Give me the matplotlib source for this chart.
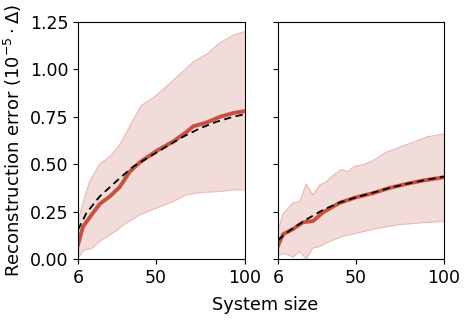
import matplotlib
matplotlib.use("Agg")
import matplotlib.pyplot as plt

# left panel
xl_mean = [6, 8.8, 12.6, 18.2, 23.9, 29.5, 35.1, 40.8, 50.2, 59.6, 67.1, 70.9, 78.4, 85.9, 93.4, 100]
yl_mean = [0.075, 0.17, 0.22, 0.29, 0.33, 0.38, 0.46, 0.51, 0.57, 0.62, 0.67, 0.70, 0.72, 0.75, 0.77, 0.78]
xl_fit = [6, 10.7, 18.2, 27.6, 37.0, 46.4, 55.8, 65.2, 74.6, 84.0, 93.4, 100]
yl_fit = [0.154, 0.242, 0.33, 0.41, 0.487, 0.54, 0.593, 0.645, 0.689, 0.724, 0.75, 0.764]
xl_up = [6, 9.8, 12.6, 18.2, 23.9, 29.5, 35.1, 41.7, 48.3, 55.8, 65.2, 70.9, 78.4, 85.9, 93.4, 100]
yl_up = [0.2, 0.33, 0.41, 0.50, 0.54, 0.60, 0.70, 0.81, 0.85, 0.91, 0.99, 1.04, 1.08, 1.14, 1.18, 1.20]
xl_lo = [6, 9.8, 13.5, 18.2, 25.7, 33.2, 40.8, 50.2, 59.6, 67.1, 74.6, 85.9, 93.4, 100]
yl_lo = [0.005, 0.05, 0.053, 0.093, 0.137, 0.19, 0.233, 0.268, 0.303, 0.338, 0.35, 0.356, 0.365, 0.365]

# right panel
xr_mean = [6, 8.8, 14.5, 20.2, 25.8, 31.5, 40.9, 50.4, 59.8, 69.2, 78.7, 88.1, 100]
yr_mean = [0.07, 0.13, 0.158, 0.194, 0.2, 0.246, 0.296, 0.326, 0.347, 0.375, 0.396, 0.414, 0.431]
xr_fit = [6, 12.6, 22.0, 31.5, 40.9, 50.4, 59.8, 69.2, 78.7, 88.1, 100]
yr_fit = [0.10, 0.15, 0.208, 0.259, 0.298, 0.326, 0.35, 0.375, 0.396, 0.414, 0.435]
xr_up = [6, 8.8, 14.5, 18.3, 22.0, 25.8, 29.6, 33.4, 37.1, 41.9, 45.6, 49.4, 54.1, 59.8, 67.3, 74.9, 82.5, 90.0, 100]
yr_up = [0.15, 0.238, 0.296, 0.303, 0.396, 0.338, 0.39, 0.408, 0.44, 0.472, 0.461, 0.489, 0.496, 0.519, 0.563, 0.59, 0.616, 0.643, 0.66]
xr_lo = [6, 9.8, 14.5, 18.3, 22.0, 25.8, 29.6, 35.3, 42.8, 52.3, 63.6, 74.9, 86.2, 100]
yr_lo = [0.018, 0.03, 0.009, 0.04, 0.0, 0.058, 0.065, 0.093, 0.12, 0.14, 0.164, 0.181, 0.19, 0.199]

line_col = "#c9503c"
fill_col = "#f2dcda"
edge_col = "#eab9b4"

fig = plt.figure(figsize=(4.69, 3.23), dpi=100)
ax1 = fig.add_axes([78/469, 64/323, 167/469, 237/323])
ax2 = fig.add_axes([278/469, 64/323, 166/469, 237/323])

panels = [
    (ax1, xl_mean, yl_mean, xl_fit, yl_fit, xl_up, yl_up, xl_lo, yl_lo),
    (ax2, xr_mean, yr_mean, xr_fit, yr_fit, xr_up, yr_up, xr_lo, yr_lo),
]
for ax, xm, ym, xf, yf, xu, yu, xlo, ylo in panels:
    # band as one polygon: upper edge then lower edge reversed
    ax.fill(xu + xlo[::-1], yu + ylo[::-1], color=fill_col, lw=0)
    ax.plot(xu, yu, color=edge_col, lw=0.8)
    ax.plot(xlo, ylo, color=edge_col, lw=0.8)
    ax.plot(xm, ym, color=line_col, lw=2.8)
    ax.plot(xf, yf, color="black", lw=1.3, ls=(0, (4, 2.5)))
    ax.set_xlim(6, 100)
    ax.set_ylim(0, 1.25)
    ax.set_xticks([6, 50, 100])
    ax.set_yticks([0, 0.25, 0.5, 0.75, 1.0, 1.25])
    ax.tick_params(labelsize=12.5)

ax2.set_yticklabels([])
ax1.set_ylabel(r"Reconstruction error ($10^{-5}\cdot\Delta$)", fontsize=13, labelpad=4)
fig.text(265/469, 1 - 305/323, "System size", ha="center", va="center", fontsize=12.8)

fig.savefig("out.png", dpi=100)
